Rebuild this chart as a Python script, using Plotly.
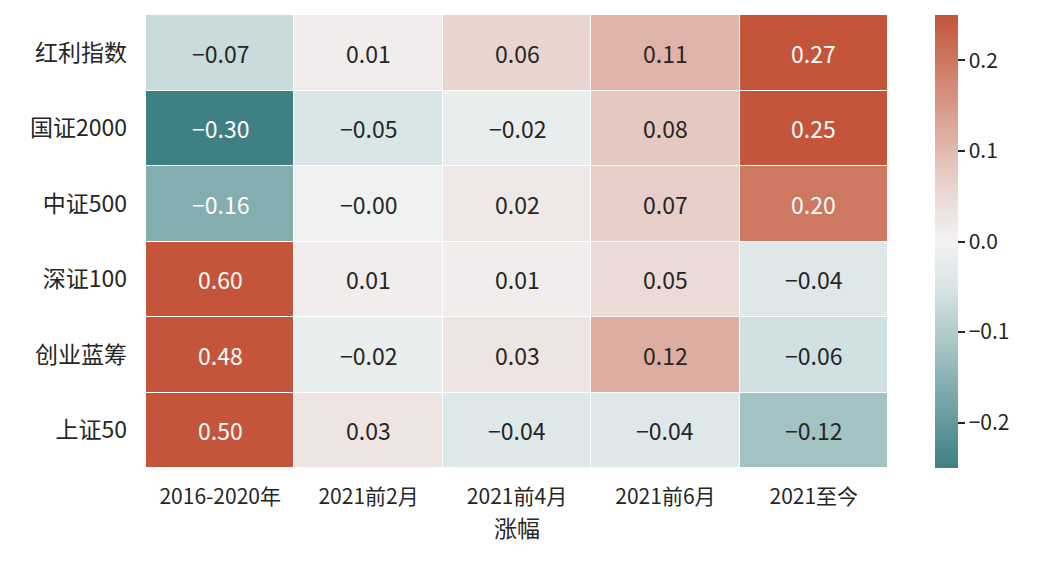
import plotly.graph_objects as go

rows = ["红利指数", "国证2000", "中证500", "深证100", "创业蓝筹", "上证50"]
cols = ["2016-2020年", "2021前2月", "2021前4月", "2021前6月", "2021至今"]
v_hongli = [-0.07, 0.01, 0.06, 0.11, 0.27]
v_gz2000 = [-0.30, -0.05, -0.02, 0.08, 0.25]
v_zz500 = [-0.16, -0.004, 0.02, 0.07, 0.20]
v_sz100 = [0.60, 0.01, 0.01, 0.05, -0.04]
v_cylc = [0.48, -0.02, 0.03, 0.12, -0.06]
v_sz50 = [0.50, 0.03, -0.04, -0.04, -0.12]
z = [v_hongli, v_gz2000, v_zz500, v_sz100, v_cylc, v_sz50]

VMIN, VMAX = -0.25, 0.25
STOPS = [
    (0.0, (62, 128, 131)),
    (0.4, (217, 229, 230)),
    (0.5, (242, 242, 242)),
    (0.62, (233, 213, 208)),
    (1.0, (196, 85, 58)),
]

def hexc(c):
    return "#%02x%02x%02x" % tuple(int(round(x)) for x in c)

def color_of(v):
    t = (min(max(v, VMIN), VMAX) - VMIN) / (VMAX - VMIN)
    for (t0, c0), (t1, c1) in zip(STOPS[:-1], STOPS[1:]):
        if t0 <= t <= t1:
            f = (t - t0) / (t1 - t0)
            return tuple(c0[i] + (c1[i] - c0[i]) * f for i in range(3))
    return STOPS[-1][1]

def lum(c):
    out = []
    for x in c:
        x = x / 255
        out.append(x / 12.92 if x <= 0.03928 else ((x + 0.055) / 1.055) ** 2.4)
    return 0.2126 * out[0] + 0.7152 * out[1] + 0.0722 * out[2]

FONT = "Noto Sans CJK SC, Noto Sans, sans-serif"

fig = go.Figure(go.Heatmap(
    z=z, x=cols, y=rows, zmin=VMIN, zmax=VMAX,
    colorscale=[[t, hexc(c)] for t, c in STOPS],
    xgap=1, ygap=1, hoverinfo="skip",
    colorbar=dict(
        thickness=23, len=1.0, lenmode="fraction", y=0.5, yanchor="middle",
        x=1.063, xanchor="left", xpad=0, ypad=0, outlinewidth=0,
        tickvals=[-0.2, -0.1, 0.0, 0.1, 0.2],
        ticktext=["−0.2", "−0.1", "0.0", "0.1", "0.2"],
        ticks="outside", ticklen=7, tickwidth=2, tickcolor="#262626",
        tickfont=dict(size=21, color="#262626", family=FONT),
    ),
))

for i, r in enumerate(rows):
    for j, c in enumerate(cols):
        v = z[i][j]
        txt = ("%.2f" % v).replace("-", "−")
        tc = "white" if lum(color_of(v)) < 0.408 else "#262626"
        fig.add_annotation(x=c, y=r, text=txt, showarrow=False,
                           font=dict(size=23, color=tc, family=FONT))

fig.update_layout(
    width=1047, height=564,
    margin=dict(l=138, r=167, t=7, b=104),
    paper_bgcolor="white", plot_bgcolor="white",
    font=dict(family=FONT, color="#262626"),
    xaxis=dict(showgrid=False, zeroline=False, ticks="", ticklabelstandoff=14,
               tickfont=dict(size=21, color="#262626"),
               title=dict(text="涨幅", font=dict(size=23, color="#262626"), standoff=4)),
    yaxis=dict(showgrid=False, zeroline=False, ticks="", autorange="reversed",
               ticklabelstandoff=18, tickfont=dict(size=23, color="#262626")),
)

fig.write_html("out.html")
